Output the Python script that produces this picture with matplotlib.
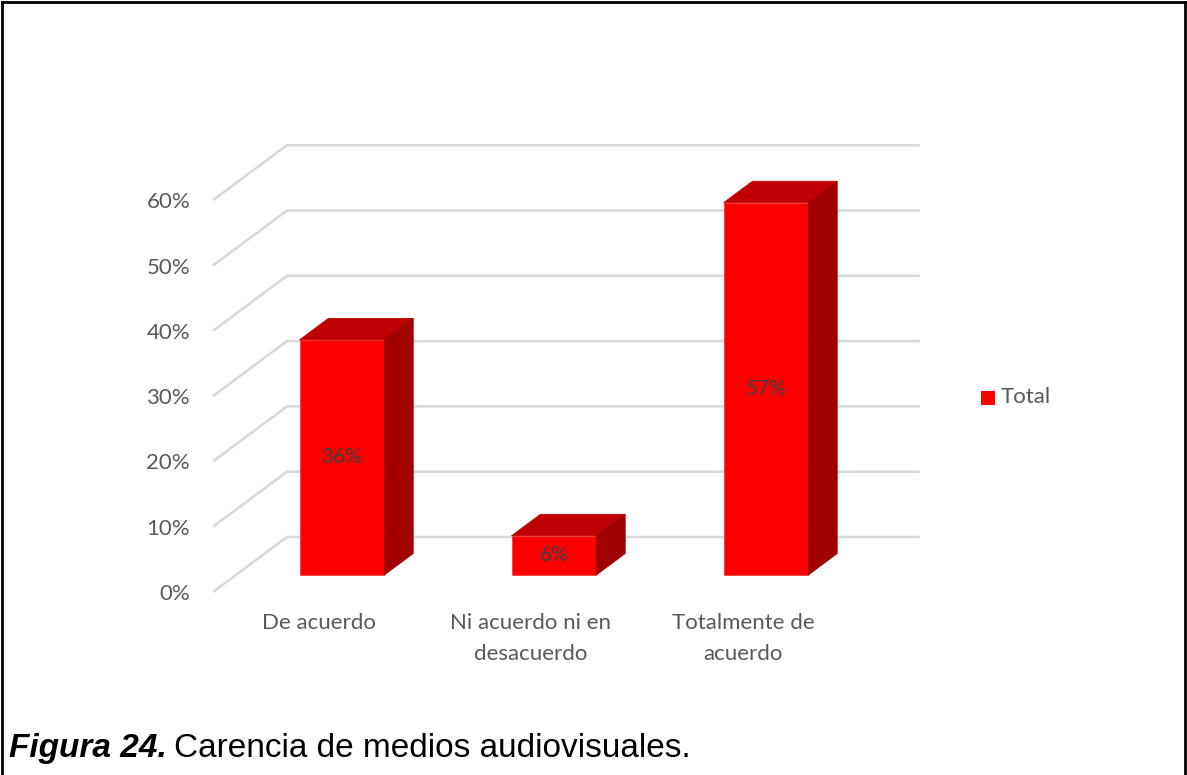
import matplotlib
matplotlib.use("Agg")
from matplotlib import pyplot as plt
from matplotlib.patches import Polygon, Rectangle
from matplotlib.lines import Line2D

# datos
categorias = ["De acuerdo", "Ni acuerdo ni en\ndesacuerdo", "Totalmente de\nacuerdo"]
valores = [36, 6, 57]
etiquetas = ["36%", "6%", "57%"]
ticks_y = [0, 10, 20, 30, 40, 50, 60]
serie = "Total"

W, H = 1187, 775
fig = plt.figure(figsize=(W / 100, H / 100), dpi=100)

# escala en pixeles del plano frontal
px_cat = 212.0       # pixeles por categoria
px_pct = 6.53        # pixeles por 1 %
x0_px, y0_px = 213, 592
ax_w_px, ax_h_px = 710, 447
ax = fig.add_axes([x0_px / W, (H - y0_px) / H, ax_w_px / W, ax_h_px / H])
ax.set_xlim(0, ax_w_px / px_cat)
ax.set_ylim(0, ax_h_px / px_pct)
for s in ax.spines.values():
    s.set_visible(False)

# profundidad (proyeccion oblicua)
dx = 74 / px_cat
dy = 55 / px_pct
n = len(categorias)

grid_color = "#d9d9d9"
for v in ticks_y:
    ax.plot([0, dx, n + dx - 0.015], [v, v + dy, v + dy], color=grid_color, lw=1.8,
            solid_capstyle="butt", zorder=1, clip_on=False)

# barras 3D
d_front, d_back = 0.31, 0.70
ancho = 0.40
for i, val in enumerate(valores):
    ox, oy = d_front * dx, d_front * dy
    bx, by = d_back * dx, d_back * dy
    xl = i + 0.5 - ancho / 2 + ox
    xr = i + 0.5 + ancho / 2 + ox
    yb = oy
    yt = oy + val
    ddx, ddy = bx - ox, by - oy
    front = Polygon([(xl, yb), (xr, yb), (xr, yt), (xl, yt)], closed=True,
                    facecolor="#ff0000", edgecolor="#ff4040", lw=0.6, zorder=3)
    top = Polygon([(xl, yt), (xr, yt), (xr + ddx, yt + ddy), (xl + ddx, yt + ddy)], closed=True,
                  facecolor="#c00000", edgecolor="#c00000", lw=0.6, zorder=3)
    side = Polygon([(xr, yb), (xr + ddx, yb + ddy), (xr + ddx, yt + ddy), (xr, yt)], closed=True,
                   facecolor="#a00000", edgecolor="#a00000", lw=0.6, zorder=3)
    for p in (front, top, side):
        p.set_clip_on(False)
        ax.add_patch(p)
    ax.text(i + 0.5 + ox, (yb + yt) / 2, etiquetas[i], ha="center", va="center",
            fontsize=15, color="#404040", family="Lato", zorder=4)

# ejes
ax.set_yticks(ticks_y)
ax.set_yticklabels([f"{t}%" for t in ticks_y])
ax.set_xticks([i + 0.5 for i in range(n)])
ax.set_xticklabels(categorias, linespacing=1.7)
ax.tick_params(axis="y", length=0, pad=16.5, labelsize=16, labelcolor="#595959")
ax.tick_params(axis="x", length=0, pad=15, labelsize=16, labelcolor="#595959")
for lab in ax.get_xticklabels() + ax.get_yticklabels():
    lab.set_family("Lato")

# leyenda
fig.patches.append(Rectangle((981 / W, 1 - 405 / H), 14 / W, 14 / H, transform=fig.transFigure,
                             facecolor="#ff0000", edgecolor="none"))
fig.text(1001 / W, 1 - 397 / H, serie, ha="left", va="center", fontsize=16,
         color="#595959", family="Lato")

# marco
for xs, ys in [([2 / W, 2 / W], [0, 1 - 2 / H]), ([2 / W, 1 - 2 / W], [1 - 2 / H, 1 - 2 / H]),
               ([1 - 2 / W, 1 - 2 / W], [0, 1 - 2 / H])]:
    fig.add_artist(Line2D(xs, ys, color="black", lw=2, transform=fig.transFigure))

# titulo de la figura
t1 = fig.text(9 / W, 1 - 757 / H, "Figura 24.", ha="left", va="baseline", fontsize=24,
              fontweight="bold", fontstyle="italic", family="Liberation Sans")
fig.canvas.draw()
bb = t1.get_window_extent()
fig.text((bb.x1 + 7) / W, 1 - 757 / H, "Carencia de medios audiovisuales.", ha="left",
         va="baseline", fontsize=24, family="Liberation Sans")

fig.savefig("out.png", dpi=100, facecolor="white")
